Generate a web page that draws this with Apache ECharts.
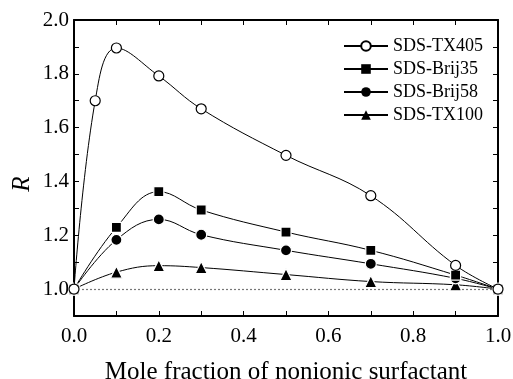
<!DOCTYPE html>
<html>
<head>
<meta charset="utf-8">
<script src="https://cdn.jsdelivr.net/npm/echarts@6/dist/echarts.min.js"></script>
<style>
  html, body { margin: 0; padding: 0; background: #fff; }
  #main { width: 513px; height: 379px; }
</style>
</head>
<body>
<div id="main"></div>
<script>
// mole fraction of nonionic surfactant
const xTX405 = [0, 0.05, 0.1, 0.2, 0.3, 0.5, 0.7, 0.9, 1.0];
const xOther = [0, 0.1, 0.2, 0.3, 0.5, 0.7, 0.9, 1.0];

const rTX405 = [1.0, 1.70, 1.896, 1.792, 1.670, 1.497, 1.347, 1.088, 1.0];
const rBrij35 = [1.0, 1.229, 1.362, 1.294, 1.212, 1.144, 1.052, 1.0];
const rBrij58 = [1.0, 1.183, 1.259, 1.202, 1.144, 1.094, 1.040, 1.0];
const rTX100 = [1.0, 1.063, 1.087, 1.080, 1.054, 1.028, 1.016, 1.0];

const seriesNames = ["SDS-TX405", "SDS-Brij35", "SDS-Brij58", "SDS-TX100"];
const yTickLabels = ["1.0", "1.2", "1.4", "1.6", "1.8", "2.0"];
const xTickLabels = ["0.0", "0.2", "0.4", "0.6", "0.8", "1.0"];

const font = "Liberation Serif, Times New Roman, serif";

const pairs = (xs, ys) => xs.map((x, i) => [x, ys[i]]);

const chartDom = document.getElementById("main");
const myChart = echarts.init(chartDom);

const axisCommon = {
  type: "value",
  interval: 0.1,
  axisLine: { show: true, onZero: false, lineStyle: { color: "#000", width: 2 } },
  axisTick: { show: true, inside: true, length: 5, lineStyle: { color: "#000", width: 1 } },
  splitLine: { show: false },
};

const filledStyle = {
  color: "#000",
  borderColor: "#fff",
  borderWidth: 1.2,
};

const option = {
  animation: false,
  textStyle: { fontFamily: font, color: "#000" },
  grid: { left: 74, right: 15, top: 20, bottom: 63, outerBoundsMode: "none", containLabel: false },
  legend: {
    data: seriesNames.map((name, i) =>
      i === 0 ? { name } : { name, itemStyle: { borderWidth: 0 } }
    ),
    orient: "vertical",
    left: 338,
    top: 32,
    itemWidth: 44,
    itemHeight: 12,
    itemGap: 5,
    textStyle: { fontFamily: font, fontSize: 18, color: "#000", lineHeight: 17 },
  },
  xAxis: [
    {
      ...axisCommon,
      min: 0,
      max: 1,
      name: "Mole fraction of nonionic surfactant",
      nameLocation: "middle",
      nameGap: 44,
      nameTextStyle: { fontFamily: font, fontSize: 25, color: "#000" },
      axisLabel: {
        margin: 10,
        fontFamily: font,
        fontSize: 21,
        color: "#000",
        formatter: (v) => {
          const k = Math.round(v * 10);
          return k % 2 === 0 ? xTickLabels[k / 2] : "";
        },
      },
    },
    {
      ...axisCommon,
      position: "top",
      min: 0,
      max: 1,
      axisLabel: { show: false },
    },
  ],
  yAxis: [
    {
      ...axisCommon,
      min: 0.9,
      max: 2.0,
      axisLabel: {
        margin: 5,
        fontFamily: font,
        fontSize: 21,
        color: "#000",
        formatter: (v) => {
          const k = Math.round(v * 10);
          return k >= 10 && k % 2 === 0 ? yTickLabels[(k - 10) / 2] : "";
        },
      },
    },
    {
      ...axisCommon,
      position: "right",
      min: 0.9,
      max: 2.0,
      axisLabel: { show: false },
    },
  ],
  graphic: [
    {
      type: "text",
      x: 22,
      y: 184,
      rotation: Math.PI / 2,
      style: {
        text: "R",
        font: "italic 25px " + font,
        fill: "#000",
        textAlign: "center",
        textVerticalAlign: "middle",
      },
    },
  ],
  series: [
    {
      name: "SDS-TX100",
      type: "line",
      smooth: 0.4,
      data: pairs(xOther, rTX100),
      symbol: "triangle",
      symbolSize: 12,
      lineStyle: { color: "#000", width: 1 },
      itemStyle: filledStyle,
      z: 3,
      markLine: {
        silent: true,
        symbol: "none",
        label: { show: false },
        lineStyle: { color: "#777", type: [2, 2], width: 1.2 },
        data: [{ yAxis: 1.0 }],
        z: 1,
      },
    },
    {
      name: "SDS-Brij58",
      type: "line",
      smooth: 0.4,
      data: pairs(xOther, rBrij58),
      symbol: "circle",
      symbolSize: 11,
      lineStyle: { color: "#000", width: 1 },
      itemStyle: filledStyle,
      z: 4,
    },
    {
      name: "SDS-Brij35",
      type: "line",
      smooth: 0.4,
      data: pairs(xOther, rBrij35),
      symbol: "rect",
      symbolSize: 10,
      lineStyle: { color: "#000", width: 1 },
      itemStyle: filledStyle,
      z: 5,
    },
    {
      name: "SDS-TX405",
      type: "line",
      smooth: 0.4,
      data: pairs(xTX405, rTX405),
      symbol: "circle",
      symbolSize: 10,
      lineStyle: { color: "#000", width: 1 },
      itemStyle: { color: "#fff", borderColor: "#000", borderWidth: 1.2 },
      z: 6,
    },
  ],
};

option && myChart.setOption(option);
</script>
</body>
</html>
